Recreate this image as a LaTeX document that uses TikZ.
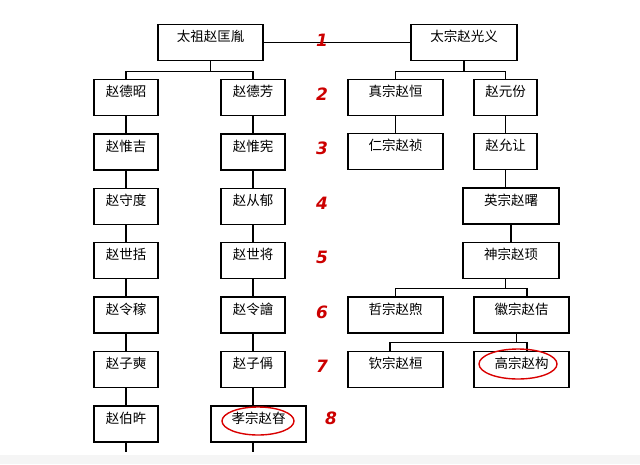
\documentclass[tikz,border=0pt]{standalone}
\usepackage{fontspec}
\setmainfont{Noto Sans CJK SC}
\newfontfamily\numfont{DejaVu Sans}
\usetikzlibrary{shapes.geometric}
\tikzset{
	person/.style={draw,line width=1.3pt,inner sep=0pt,minimum height=36pt},
	who/.style={font=\fontsize{13.5}{13.5}\selectfont,anchor=north,yshift=-6pt,inner sep=0pt},
	gen/.style={text=red!80!black,font=\numfont\bfseries\itshape\fontsize{17}{17}\selectfont},
	ring/.style={draw=red!85!black,line width=1.4pt,ellipse,inner sep=0pt}
}
\begin{document}
\begin{tikzpicture}[x=1pt,y=-1pt,line width=1.2pt]
	\useasboundingbox (0,0) rectangle (640,464);
	\fill[black!4] (0,455) rectangle (640,464);
	% generation 1
	\node[person,minimum width=105pt] (taizu) at (210.5,42.5) {};
	\node[person,minimum width=106pt] (taizong) at (464,42.5) {};
	% left branch
	\foreach \n/\t [count=\i] in {dezhao/赵德昭,weiji/赵惟吉,shoudu/赵守度,shigua/赵世括,lingjia/赵令稼,zishuang/赵子奭,bozai/赵伯旿}
		\node[person,minimum width=64pt,label={[who]north:\t}] (\n) at (126,{97.5+(\i-1)*54.4}) {};
	\foreach \n/\t [count=\i] in {defang/赵德芳,weixian/赵惟宪,congyu/赵从郁,shijiang/赵世将,lingkuang/赵令譮,zicheng/赵子偁}
		\node[person,minimum width=64pt,label={[who]north:\t}] (\n) at (253,{97.5+(\i-1)*54.4}) {};
	\node[person,minimum width=95pt,label={[who]north:孝宗赵昚}] (xiaozong) at (258.5,424) {};
	% right branch
	\node[person,minimum width=95pt,label={[who]north:真宗赵恒}] (zhenzong) at (395.5,97.5) {};
	\node[person,minimum width=63pt,label={[who]north:赵元份}] (yuanfen) at (505.5,97.5) {};
	\node[person,minimum width=95pt,label={[who]north:仁宗赵祯}] (renzong) at (395.5,151.5) {};
	\node[person,minimum width=63pt,label={[who]north:赵允让}] (yunrang) at (505.5,151.5) {};
	\node[person,minimum width=96pt,label={[who]north:英宗赵曙}] (yingzong) at (511,206) {};
	\node[person,minimum width=96pt,label={[who]north:神宗赵顼}] (shenzong) at (511,260.5) {};
	\node[person,minimum width=95pt,label={[who]north:哲宗赵煦}] (zhezong) at (395.5,315) {};
	\node[person,minimum width=95pt,label={[who]north:徽宗赵佶}] (huizong) at (521.5,315) {};
	\node[person,minimum width=95pt,label={[who]north:钦宗赵桓}] (qinzong) at (395.5,369.5) {};
	\node[person,minimum width=95pt,label={[who]north:高宗赵构}] (gaozong) at (521.5,369.5) {};
	% labels in the top boxes
	\node[who] at (taizu.north) {太祖赵匡胤};
	\node[who] at (taizong.north) {太宗赵光义};
	% connectors
	\draw (taizu) -- (taizong);
	\draw (taizu.south) -- ++(0,10) -| (dezhao.north);
	\draw (taizu.south) ++(0,10) -| (defang.north);
	\draw (taizong.south) -- ++(0,10) -| (zhenzong.north);
	\draw (taizong.south) ++(0,10) -| (yuanfen.north);
	\foreach \a/\b in {dezhao/weiji,weiji/shoudu,shoudu/shigua,shigua/lingjia,lingjia/zishuang,zishuang/bozai,
		defang/weixian,weixian/congyu,congyu/shijiang,shijiang/lingkuang,lingkuang/zicheng,
		zhenzong/renzong,yuanfen/yunrang}
		\draw (\a.south) -- (\b.north);
	\draw (zicheng.south) -- (zicheng.south|-xiaozong.north);
	\draw (yunrang.south) -- (yunrang.south|-yingzong.north);
	\draw (yingzong.south) -- (yingzong.south|-shenzong.north);
	\coordinate (forkA) at ([yshift=-9pt]yunrang.south|-shenzong.south);
	\draw (yunrang.south|-shenzong.south) -- (forkA);
	\draw (forkA) -| (zhezong.north);
	\draw (forkA) -| (527,297);
	\coordinate (forkB) at ([xshift=-5pt,yshift=-9pt]huizong.south);
	\draw ([xshift=-5pt]huizong.south) -- (forkB);
	\draw (forkB) -| (390,351);
	\draw (forkB) -| (527,351);
	\coordinate (tailA) at (126,452);
	\coordinate (tailB) at (253,452);
	\draw (bozai.south) -- (tailA);
	\draw (xiaozong.south-|tailB) -- (tailB);
	% generation numbers
	\foreach \g [count=\i] in {1,...,7}
		\node[gen] at (322,{40+(\i-1)*54.4}) {\g};
	\node[gen] at (331,418) {8};
	% red rings
	\node[ring,minimum width=72pt,minimum height=28pt] (ringA) at (258,421) {};
	\node[ring,minimum width=78pt,minimum height=30pt] (ringB) at (518,364) {};
\end{tikzpicture}
\end{document}
